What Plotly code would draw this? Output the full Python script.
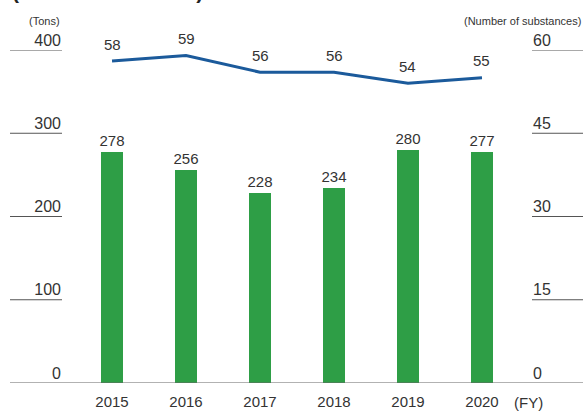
import plotly.graph_objects as go

years = ["2015", "2016", "2017", "2018", "2019", "2020"]
tons = [278, 256, 228, 234, 280, 277]
substances = [58, 59, 56, 56, 54, 55]
left_ticks = [0, 100, 200, 300, 400]
right_ticks = [0, 15, 30, 45, 60]

xs = list(range(len(years)))
FONT = "Liberation Sans, Arial, sans-serif"
TXT = "#333333"
GREEN = "#2E9E46"
BLUE = "#1B5A9B"

fig = go.Figure()
fig.add_trace(go.Bar(
    x=xs, y=tons, width=0.285, marker=dict(color=GREEN, line=dict(width=0)),
    text=[str(v) for v in tons], textposition="outside", cliponaxis=False,
    constraintext="none",
    textfont=dict(size=15, color=TXT, family=FONT), yaxis="y", showlegend=False,
))
fig.add_trace(go.Scatter(
    x=xs, y=substances, mode="lines", line=dict(color=BLUE, width=3),
    yaxis="y2", showlegend=False, cliponaxis=False,
))
for x, v in zip(xs, substances):
    fig.add_annotation(x=x, y=v, xref="x", yref="y2", text=str(v), showarrow=False,
                       yshift=17, font=dict(size=15, color=TXT, family=FONT))

L0 = (10 - 62) / 470
R1 = (583 - 62) / 470
shapes = []
shapes.append(dict(type="line", xref="paper", yref="y", x0=L0, x1=R1, y0=0, y1=0,
                   line=dict(color="#666666", width=1.2)))
for t in left_ticks[1:]:
    shapes.append(dict(type="line", xref="paper", yref="y", x0=L0, x1=0, y0=t, y1=t,
                       line=dict(color="#555555", width=1)))
for t in right_ticks[1:]:
    shapes.append(dict(type="line", xref="paper", yref="y2", x0=1, x1=R1, y0=t, y1=t,
                       line=dict(color="#555555", width=1)))

fig.update_layout(
    width=585, height=411, margin=dict(l=62, r=53, t=50, b=28),
    paper_bgcolor="white", plot_bgcolor="white",
    font=dict(family=FONT, color=TXT, size=15),
    shapes=shapes,
    xaxis=dict(range=[-0.676, 5.676], tickvals=xs, ticktext=years, showgrid=False,
               zeroline=False, showline=False, ticks="", tickfont=dict(size=15, color=TXT),
               ticklabelstandoff=8, automargin=False, fixedrange=True),
    yaxis=dict(range=[0, 400], tickvals=left_ticks, showgrid=False, zeroline=False,
               showline=False, ticks="", tickfont=dict(size=16, color=TXT),
               ticklabelshift=-10, ticklabelstandoff=0, automargin=False),
    yaxis2=dict(range=[0, 60], tickvals=right_ticks, overlaying="y", side="right",
                showgrid=False, zeroline=False, showline=False, ticks="",
                tickfont=dict(size=16, color=TXT), ticklabelshift=-10, ticklabelstandoff=0,
                automargin=False),
    bargap=0,
)

fig.add_annotation(xref="paper", yref="paper", x=0, y=(383 - 21) / 333, xanchor="right",
                   yanchor="middle", text="(Tons)", showarrow=False,
                   font=dict(size=11, color=TXT, family=FONT))
fig.add_annotation(xref="paper", yref="paper", x=R1, y=(383 - 21) / 333, xanchor="right",
                   yanchor="middle", text="(Number of substances)", showarrow=False,
                   font=dict(size=11, color=TXT, family=FONT))
fig.add_annotation(xref="paper", yref="paper", x=(512 - 62) / 470, y=(383 - 402) / 333,
                   xanchor="left", yanchor="middle", text="(FY)", showarrow=False,
                   font=dict(size=15, color=TXT, family=FONT))
fig.add_annotation(xref="paper", yref="paper", x=(10 - 62) / 470, y=(383 - 5) / 333,
                   xanchor="left", yanchor="bottom", text="<b>(Non-consolidated)</b>",
                   showarrow=False, font=dict(size=21, color="#222222", family=FONT))

fig.write_html("out.html")
